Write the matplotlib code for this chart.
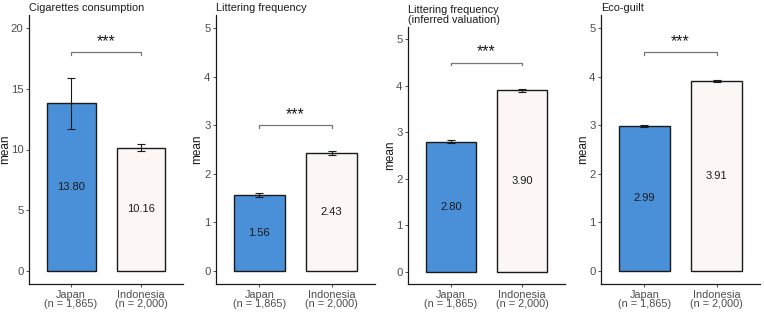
import numpy as np
import matplotlib
matplotlib.use('Agg')
import matplotlib.pyplot as plt

plt.rcParams['font.family'] = ['Liberation Sans', 'DejaVu Sans']

# data
groups = ['Japan\n(n = 1,865)', 'Indonesia\n(n = 2,000)']
titles = ['Cigarettes consumption', 'Littering frequency',
          'Littering frequency\n(inferred valuation)', 'Eco-guilt']
means = [[13.80, 10.16], [1.56, 2.43], [2.80, 3.90], [2.99, 3.91]]
errs = [[2.1, 0.27], [0.04, 0.04], [0.04, 0.03], [0.02, 0.02]]
ymax = [20, 5, 5, 5]
yticks = [[0, 5, 10, 15, 20], [0, 1, 2, 3, 4, 5], [0, 1, 2, 3, 4, 5], [0, 1, 2, 3, 4, 5]]
bracket_y = [18.0, 3.0, 4.5, 4.5]
sig = ['***', '***', '***', '***']

colors = ['#4A90D9', '#FCF7F5']

W, H = 764, 313
fig = plt.figure(figsize=(W / 100, H / 100), dpi=100)

# panel boxes in pixels: left, right, top, bottom, ylabel x
boxes = [(29, 183, 15, 284, 5), (216, 375, 15, 284, 197),
         (408, 565, 27, 284, 390), (601, 760, 15, 284, 583)]

for k in range(4):
    l, r, t, b, lx = boxes[k]
    ax = fig.add_axes([l / W, 1 - b / H, (r - l) / W, (b - t) / H])
    x = np.array([1, 2])
    ax.bar(x, means[k], width=0.7, color=colors, edgecolor='#1a1a1a', linewidth=1.0, zorder=2)
    ax.errorbar(x, means[k], yerr=errs[k], fmt='none', ecolor='#1a1a1a',
                elinewidth=0.8, capsize=3.2, capthick=0.8, zorder=3)
    for xi, m in zip(x, means[k]):
        ax.text(xi, m / 2, f'{m:.2f}', ha='center', va='center', fontsize=8, color='#1a1a1a')
    M = ymax[k]
    by = bracket_y[k]
    tick = 0.012 * M
    ax.plot([1, 1, 2, 2], [by - tick, by, by, by - tick], color='#777777', lw=0.9)
    ax.text(1.5, by + 0.045 * M, sig[k], ha='center', va='center', fontsize=11.5, color='#1a1a1a')
    ax.set_xlim(0.4, 2.6)
    ax.set_ylim(-0.053 * M, 1.053 * M)
    ax.set_xticks(x)
    ax.set_xticklabels(groups, fontsize=7.8, color='#4D4D4D', linespacing=0.95)
    ax.set_yticks(yticks[k])
    ax.tick_params(axis='y', labelsize=8.2, labelcolor='#4D4D4D', length=2.5, width=0.6, color='#333333', pad=1.5)
    ax.tick_params(axis='x', length=2.5, width=0.6, color='#333333', pad=1.5)
    ax.set_ylabel('mean', fontsize=8.5, color='#1a1a1a')
    ax.yaxis.label.set_va('center')
    ax.yaxis.set_label_coords((lx - l) / (r - l), 0.5)
    for s in ['top', 'right']:
        ax.spines[s].set_visible(False)
    for s in ['left', 'bottom']:
        ax.spines[s].set_linewidth(0.9)
        ax.spines[s].set_color('#1a1a1a')
    ax.set_title(titles[k], loc='left', fontsize=7.8, color='#1a1a1a', pad=3, linespacing=0.95)

fig.savefig('out.png', dpi=100)
